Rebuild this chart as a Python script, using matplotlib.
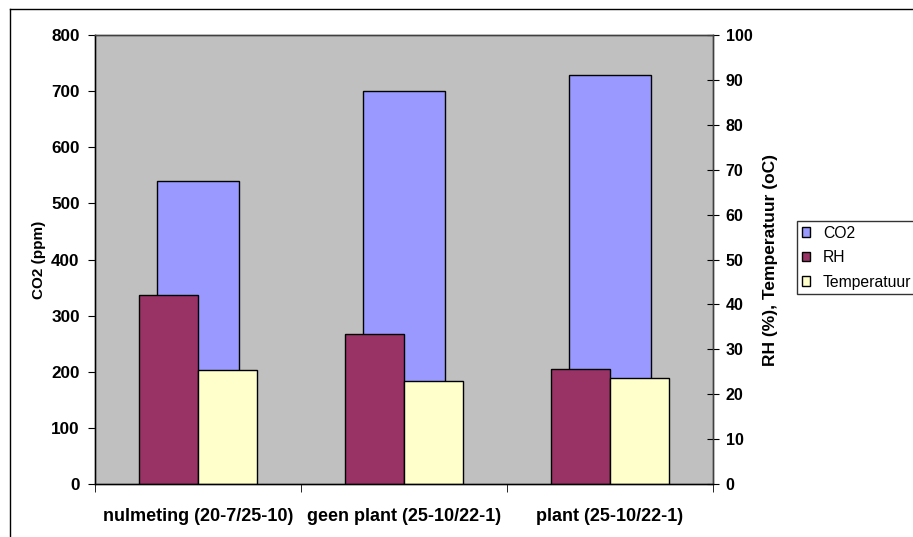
import matplotlib.pyplot as plt
import numpy as np
from matplotlib.lines import Line2D

plt.rcParams['font.family'] = ['Liberation Sans', 'DejaVu Sans']

# data
categories = ['nulmeting (20-7/25-10)', 'geen plant (25-10/22-1)', 'plant (25-10/22-1)']
co2 = [540, 701, 729]
rh = [42.1, 33.3, 25.6]
temp = [25.3, 22.9, 23.5]

fig = plt.figure(figsize=(9.13, 5.37), dpi=100)
W, H = 913, 537

# chart area border (only top and left visible)
fig.add_artist(Line2D([10 / W, 10 / W], [0, 1 - 9 / H], transform=fig.transFigure, color='black', lw=1))
fig.add_artist(Line2D([10 / W, 1], [1 - 9 / H, 1 - 9 / H], transform=fig.transFigure, color='black', lw=1))

ax = fig.add_axes([95 / W, 53 / H, 618 / W, 449 / H])
ax.set_facecolor('#C0C0C0')
ax2 = ax.twinx()

x = np.arange(len(categories))
w_co2 = 1 / 2.5
w_sec = 1 / 3.5

ax.bar(x, co2, width=w_co2, color='#9999FF', edgecolor='black', linewidth=1, label='CO2', zorder=2)
ax2.bar(x - w_sec / 2, rh, width=w_sec, color='#993366', edgecolor='black', linewidth=1, label='RH')
ax2.bar(x + w_sec / 2, temp, width=w_sec, color='#FFFFCC', edgecolor='black', linewidth=1, label='Temperatuur')

ax.set_xlim(-0.5, 2.5)
ax.set_ylim(0, 800)
ax2.set_ylim(0, 100)
ax.set_yticks(np.arange(0, 801, 100))
ax2.set_yticks(np.arange(0, 101, 10))

ax.set_xticks(x)
ax.set_xticklabels(categories, fontsize=13, fontweight='bold')
ax.tick_params(axis='x', which='major', length=0, pad=17)
ax.set_xticks(np.arange(-0.5, 2.6, 1), minor=True)
ax.tick_params(axis='x', which='minor', length=6, direction='out', color='black')

ax.tick_params(axis='y', length=5, direction='out', pad=6, labelsize=12.3)
ax2.tick_params(axis='y', length=8, direction='inout', pad=5, labelsize=11.5)
for lab in ax.get_yticklabels() + ax2.get_yticklabels():
    lab.set_fontweight('bold')

ax.set_ylabel('CO2 (ppm)', fontsize=11, fontweight='bold', labelpad=4)
ax2.set_ylabel('RH (%), Temperatuur (oC)', fontsize=12.5, fontweight='bold', labelpad=8)

for a in (ax, ax2):
    for s in a.spines.values():
        s.set_color('#404040')
        s.set_linewidth(1)
ax2.spines['left'].set_color('black')
ax2.spines['bottom'].set_color('black')

handles = ax.get_legend_handles_labels()[0] + ax2.get_legend_handles_labels()[0]
labels = ax.get_legend_handles_labels()[1] + ax2.get_legend_handles_labels()[1]
leg = fig.legend(handles, labels, loc='upper left', bbox_to_anchor=(797 / W, 1 - 221 / H),
                 bbox_transform=fig.transFigure, fontsize=11.3, frameon=True, fancybox=False,
                 handlelength=0.55, handleheight=0.55, handletextpad=0.8, labelspacing=0.6,
                 borderpad=0.3, borderaxespad=0)
leg.get_frame().set_edgecolor('black')
leg.get_frame().set_linewidth(1)

fig.savefig('out.png', dpi=100)
